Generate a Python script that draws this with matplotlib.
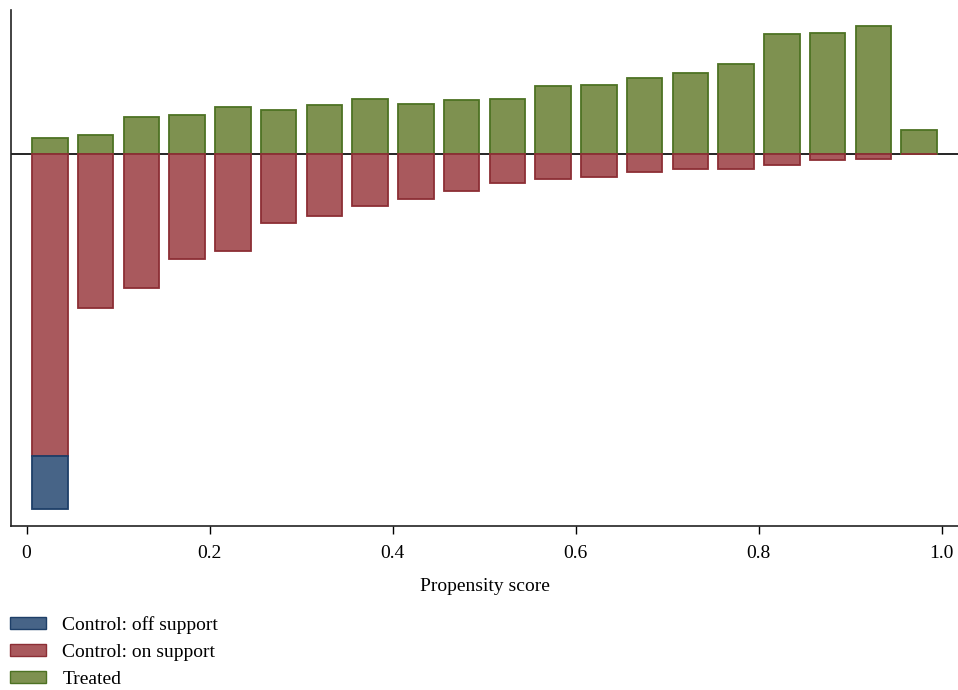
import numpy as np
import matplotlib
matplotlib.use('Agg')
import matplotlib.pyplot as plt
from matplotlib.patches import Patch

plt.rcParams['font.family'] = ['Liberation Serif', 'DejaVu Serif']

# bin centres of the propensity score (bin width 0.05)
bins = np.arange(0.025, 1.0, 0.05)
treated = [15.7, 19.3, 37.3, 39.3, 46.7, 44.3, 48.7, 55.3, 50.3, 53.7,
           54.7, 68.3, 68.7, 75.7, 81.0, 90.3, 119.7, 120.7, 128.0, 23.7]
control_on = [301.7, 154.3, 134.0, 105.0, 97.3, 69.0, 62.3, 52.0, 45.0, 37.3,
              29.3, 25.3, 23.3, 17.7, 15.3, 14.7, 10.7, 6.0, 4.7, 0.0]
control_off = [53.6, 0, 0, 0, 0, 0, 0, 0, 0, 0,
               0, 0, 0, 0, 0, 0, 0, 0, 0, 0]

col_off = ('#476487', '#1e3f68')
col_on = ('#a9595d', '#8c2e35')
col_tr = ('#7e9150', '#4d7223')

fig = plt.figure(figsize=(9.58, 6.9), dpi=100)
ax = fig.add_axes([0.0115, 0.238, 0.9885, 0.7475])

w = 0.039
x = bins + 0.0005
on = -np.array(control_on)
off = -np.array(control_off)
ax.bar(x, treated, width=w, color=col_tr[0], edgecolor=col_tr[1], linewidth=1.3)
ax.bar(x, on, width=w, color=col_on[0], edgecolor=col_on[1], linewidth=1.3)
mask = off != 0
ax.bar(x[mask], off[mask], bottom=on[mask], width=w,
       color=col_off[0], edgecolor=col_off[1], linewidth=1.3)
ax.axhline(0, color='black', linewidth=1.2, zorder=0)

ax.set_xlim(-0.017, 1.018)
ax.set_ylim(-371.7, 144)
ax.set_xticks([0, 0.2, 0.4, 0.6, 0.8, 1.0])
ax.set_xticklabels(['0', '0.2', '0.4', '0.6', '0.8', '1.0'], fontsize=14)
ax.set_yticks([])
ax.tick_params(axis='x', length=6, width=1, pad=8)
for s in ['top', 'right']:
    ax.spines[s].set_visible(False)
for s in ['left', 'bottom']:
    ax.spines[s].set_color('#222222')
    ax.spines[s].set_linewidth(1.2)
ax.set_xlabel('Propensity score', fontsize=14, labelpad=11)

handles = [Patch(facecolor=col_off[0], edgecolor=col_off[1], label='Control: off support'),
           Patch(facecolor=col_on[0], edgecolor=col_on[1], label='Control: on support'),
           Patch(facecolor=col_tr[0], edgecolor=col_tr[1], label='Treated')]
fig.legend(handles=handles, loc='lower left', bbox_to_anchor=(-0.002, -0.014),
           frameon=False, fontsize=14, handlelength=1.85, handleheight=0.55,
           handletextpad=0.85, labelspacing=0.52, borderaxespad=0.2)

fig.savefig('out.png', dpi=100)
